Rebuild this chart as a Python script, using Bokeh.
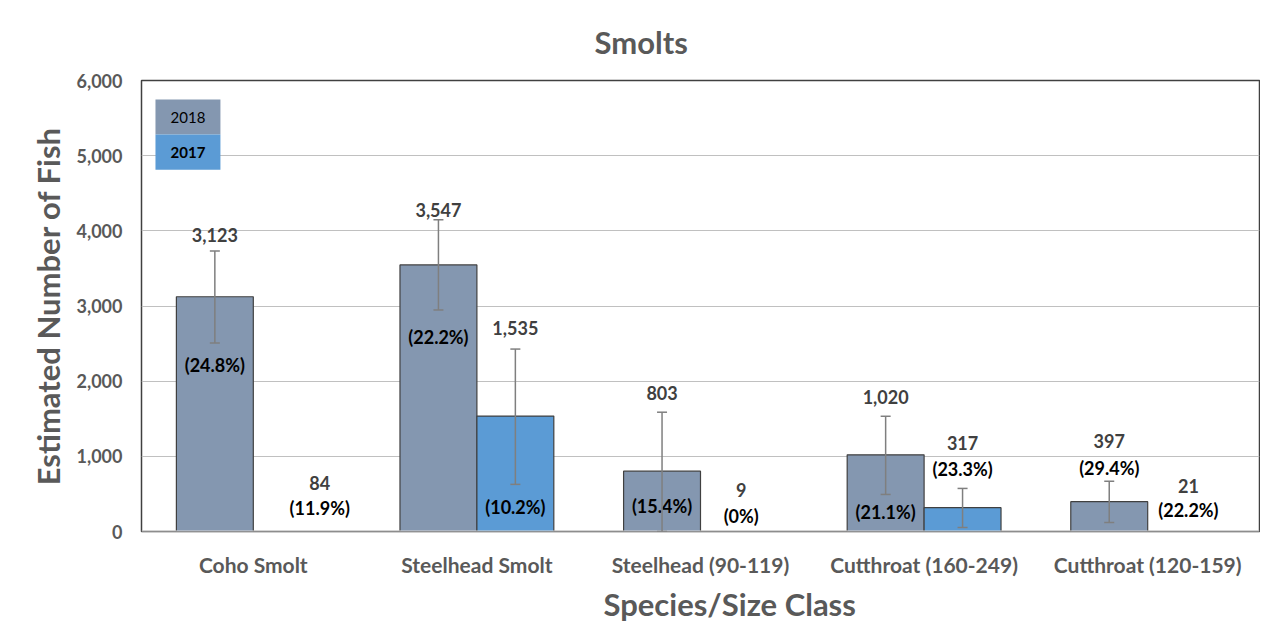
from bokeh.plotting import figure
from bokeh.models import (ColumnDataSource, Whisker, TeeHead, FixedTicker,
                          NumeralTickFormatter, Range1d, Span, Title)
from bokeh.embed import file_html
from bokeh.resources import INLINE
from bokeh.core.properties import value

# ---------------- data ----------------
categories = ["Coho Smolt", "Steelhead Smolt", "Steelhead (90-119)",
              "Cutthroat (160-249)", "Cutthroat (120-159)"]
est_2018 = [3123, 3547, 803, 1020, 397]
est_2017 = [84, 1535, 9, 317, 21]
# bar heights as drawn in the original (small 2017 bars are not drawn there)
bar_2017 = [0, 1535, 0, 317, 0]
cv_2018 = ["(24.8%)", "(22.2%)", "(15.4%)", "(21.1%)", "(29.4%)"]
cv_2017 = ["(11.9%)", "(10.2%)", "(0%)", "(23.3%)", "(22.2%)"]
lo_2018 = [2507, 2947, 0, 493, 120]
hi_2018 = [3733, 4147, 1587, 1533, 667]
lo_2017 = [None, 627, None, 53, None]
hi_2017 = [None, 2427, None, 573, None]
y_ticks = [0, 1000, 2000, 3000, 4000, 5000, 6000]
series = ["2018", "2017"]

# label placement (data units), as hand-placed in the original chart
val_y_2018 = [3947, 4280, 1840, 1787, 1200]
pct_y_2018 = [2213, 2587, 333, 253, 840]
val_y_2017 = [640, 2707, 547, 1173, 600]
pct_y_2017 = [307, 320, 200, 827, 280]
dx_2017 = [0.125, 0.0, 0.01, 0.0, 0.01]

# ---------------- style ----------------
FONT = "Lato"
C2018 = "#8497B0"
C2017 = "#5B9BD5"
BW = 0.344
GREY_TXT = "#595959"

idx = list(range(len(categories)))
x18 = [i + 0.5 - BW / 2 for i in idx]
x17 = [i + 0.5 + BW / 2 for i in idx]

p = figure(width=1260, height=636, output_backend="svg", toolbar_location=None,
           x_range=Range1d(0, len(categories)), y_range=Range1d(0, 6000),
           min_border_left=141, min_border_right=1, min_border_top=80,
           min_border_bottom=105)

p.title.text = "Smolts"
p.title.align = "left"
p.title.offset = 453
p.title.text_font = FONT
p.title.text_font_size = "31px"
p.title.text_color = GREY_TXT
p.title.text_font_style = "bold"
p.title.standoff = 40

p.outline_line_color = "#404040"
p.outline_line_width = 1.5
p.background_fill_color = "white"
p.border_fill_color = "white"

p.xgrid.visible = False
p.ygrid.grid_line_color = "#c0c0c0"
p.ygrid.grid_line_width = 1.2
p.ygrid.ticker = FixedTicker(ticks=y_ticks)

p.yaxis.ticker = FixedTicker(ticks=y_ticks)
p.yaxis.formatter = NumeralTickFormatter(format="0,0")
p.xaxis.ticker = FixedTicker(ticks=[i + 0.5 for i in idx])
p.xaxis.major_label_overrides = {i + 0.5: c for i, c in zip(idx, categories)}
for ax in (p.xaxis, p.yaxis):
    ax.axis_line_color = None
    ax.major_tick_line_color = None
    ax.minor_tick_line_color = None
    ax.major_label_text_font = FONT
    ax.major_label_text_font_style = "bold"
    ax.major_label_text_color = GREY_TXT
    ax.axis_label_text_font = FONT
    ax.axis_label_text_font_style = "bold"
    ax.axis_label_text_color = GREY_TXT
    ax.axis_label_text_font_size = "31px"
p.yaxis.major_label_text_font_size = "18px"
p.xaxis.major_label_text_font_size = "21px"
p.yaxis.major_label_standoff = 13
p.xaxis.major_label_standoff = 14
p.yaxis.axis_label = "Estimated Number of Fish"
p.yaxis.axis_label_standoff = 7

# x-axis title (placed like the original, slightly right of centre)
p.add_layout(Title(text="Species/Size Class", align="left", offset=462,
                   text_font=FONT, text_font_style="bold", text_font_size="31px",
                   text_color=GREY_TXT, standoff=6), "below")

# bars
src18 = ColumnDataSource(dict(x=x18, top=est_2018))
src17 = ColumnDataSource(dict(x=x17, top=bar_2017))
p.vbar(x="x", top="top", bottom=0, width=BW, source=src18, fill_color=C2018,
       line_color="#404040", line_width=1.2)
p.vbar(x="x", top="top", bottom=0, width=BW, source=src17, fill_color=C2017,
       line_color="#404040", line_width=1.2)

p.add_layout(Span(location=0, dimension="width", line_color="#d9d9d9", line_width=2))

# error bars
ex, elo, ehi = [], [], []
for xs, los, his in ((x18, lo_2018, hi_2018), (x17, lo_2017, hi_2017)):
    for xv, l, h in zip(xs, los, his):
        if l is not None:
            ex.append(xv); elo.append(l); ehi.append(h)
esrc = ColumnDataSource(dict(x=ex, lower=elo, upper=ehi))
p.add_layout(Whisker(base="x", lower="lower", upper="upper", source=esrc,
                     level="overlay",
                     line_color="#7f7f7f", line_width=1.5,
                     upper_head=TeeHead(size=10, line_color="#7f7f7f", line_width=1.5),
                     lower_head=TeeHead(size=10, line_color="#7f7f7f", line_width=1.5)))

# labels
def fmt(v):
    return f"{v:,}"

lx = x18 + [x + d for x, d in zip(x17, dx_2017)]
vsrc = ColumnDataSource(dict(x=lx, y=val_y_2018 + val_y_2017,
                             t=[fmt(v) for v in est_2018 + est_2017]))
psrc = ColumnDataSource(dict(x=lx, y=pct_y_2018 + pct_y_2017, t=cv_2018 + cv_2017))
p.text(x="x", y="y", text="t", source=vsrc, text_font=value(FONT),
       text_font_style="bold", text_font_size="18px", text_color="#404040",
       text_align="center", text_baseline="middle", level="overlay")
p.text(x="x", y="y", text="t", source=psrc, text_font=value(FONT),
       text_font_style="bold", text_font_size="18px", text_color="black",
       text_align="center", text_baseline="middle")

# legend (boxed swatches with labels inside, as in original)
LX0, LX1 = 0.0625, 0.353
LY = [5747, 5280, 4813]
p.quad(left=[LX0, LX0], right=[LX1, LX1], top=LY[:2], bottom=LY[1:],
       fill_color=[C2018, C2017], line_color=None)
p.text(x=[(LX0 + LX1) / 2], y=[(LY[0] + LY[1]) / 2], text=[series[0]],
       text_font=value(FONT), text_font_size="15px", text_color="black",
       text_align="center", text_baseline="middle")
p.text(x=[(LX0 + LX1) / 2], y=[(LY[1] + LY[2]) / 2], text=[series[1]],
       text_font=value(FONT), text_font_style="bold", text_font_size="15px",
       text_color="black", text_align="center", text_baseline="middle")

open("out.html", "w").write(file_html(p, INLINE))
